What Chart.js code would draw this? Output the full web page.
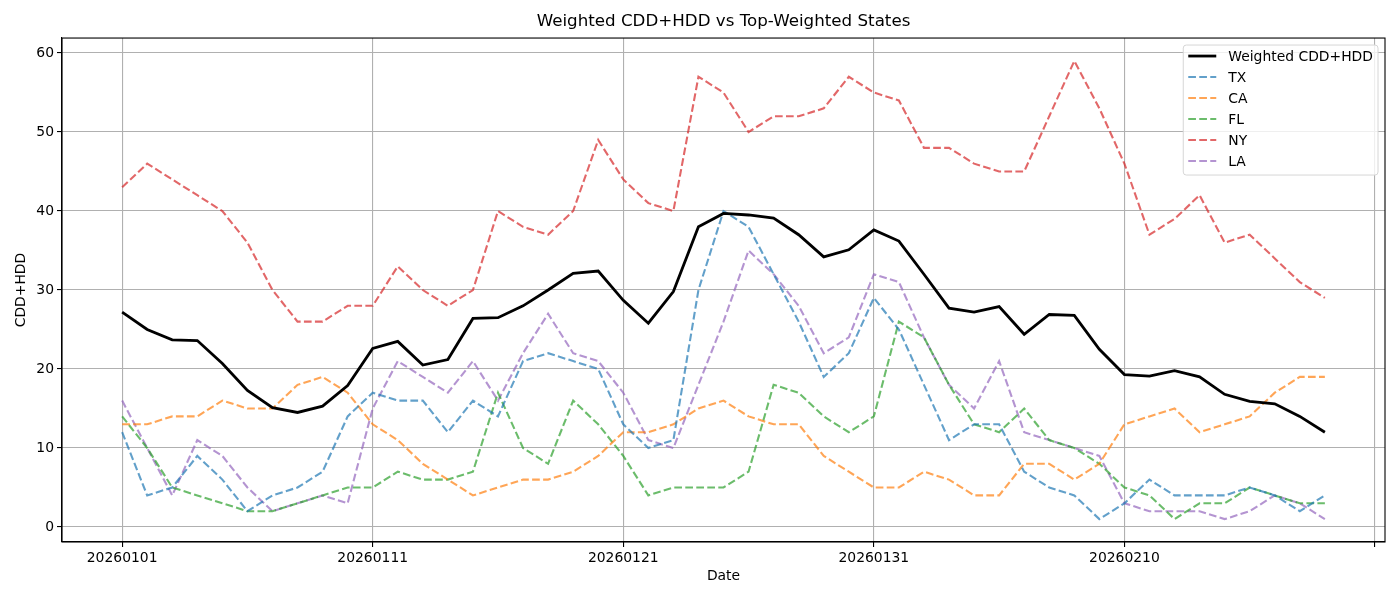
<!DOCTYPE html>
<html>
<head>
<meta charset="utf-8">
<title>Weighted CDD+HDD vs Top-Weighted States</title>
<script src="https://cdn.jsdelivr.net/npm/chart.js@4.4.1/dist/chart.umd.min.js"></script>
<style>
  html, body { margin: 0; padding: 0; background: #fff; }
  #wrap { width: 1400px; height: 600px; }
</style>
</head>
<body>
<div id="wrap"><canvas id="cddChart" width="1400" height="600"></canvas></div>
<script>
// dates on the x axis (one per day)
var dates = [
  '20260101', '20260102', '20260103', '20260104', '20260105', '20260106', '20260107',
  '20260108', '20260109', '20260110', '20260111', '20260112', '20260113', '20260114',
  '20260115', '20260116', '20260117', '20260118', '20260119', '20260120', '20260121',
  '20260122', '20260123', '20260124', '20260125', '20260126', '20260127', '20260128',
  '20260129', '20260130', '20260131', '20260201', '20260202', '20260203', '20260204',
  '20260205', '20260206', '20260207', '20260208', '20260209', '20260210', '20260211',
  '20260212', '20260213', '20260214', '20260215', '20260216', '20260217', '20260218'
];

// series values
var weighted = [27.2, 25.0, 23.7, 23.6, 20.7, 17.3, 15.1, 14.5, 15.3, 17.9, 22.6, 23.5, 20.5, 21.2,
  26.4, 26.5, 28.0, 30.0, 32.1, 32.4, 28.7, 25.8, 29.8, 38.0, 39.7, 39.5, 39.1, 37.0, 34.2, 35.1,
  37.6, 36.2, 32.0, 27.7, 27.2, 27.9, 24.4, 26.9, 26.8, 22.5, 19.3, 19.1, 19.8, 19.0, 16.8, 15.9,
  15.6, 14.0, 12.0];
var tx = [12, 4, 5, 9, 6, 2, 4, 5, 7, 14, 17, 16, 16, 12, 16, 14, 21, 22, 21, 20, 13, 10, 11, 30, 40,
  38, 32, 26, 19, 22, 29, 25, 18, 11, 13, 13, 7, 5, 4, 1, 3, 6, 4, 4, 4, 5, 4, 2, 4];
var ca = [13, 13, 14, 14, 16, 15, 15, 18, 19, 17, 13, 11, 8, 6, 4, 5, 6, 6, 7, 9, 12, 12, 13, 15, 16,
  14, 13, 13, 9, 7, 5, 5, 7, 6, 4, 4, 8, 8, 6, 8, 13, 14, 15, 12, 13, 14, 17, 19, 19];
var fl = [14, 10, 5, 4, 3, 2, 2, 3, 4, 5, 5, 7, 6, 6, 7, 17, 10, 8, 16, 13, 9, 4, 5, 5, 5, 7, 18, 17,
  14, 12, 14, 26, 24, 18, 13, 12, 15, 11, 10, 8, 5, 4, 1, 3, 3, 5, 4, 3, 3];
var ny = [43, 46, 44, 42, 40, 36, 30, 26, 26, 28, 28, 33, 30, 28, 30, 40, 38, 37, 40, 49, 44, 41, 40,
  57, 55, 50, 52, 52, 53, 57, 55, 54, 48, 48, 46, 45, 45, 52, 59, 53, 46, 37, 39, 42, 36, 37, 34, 31, 29];
var la = [16, 10, 4, 11, 9, 5, 2, 3, 4, 3, 15, 21, 19, 17, 21, 16, 22, 27, 22, 21, 17, 11, 10, 18, 26,
  35, 32, 28, 22, 24, 32, 31, 24, 18, 15, 21, 12, 11, 10, 9, 3, 2, 2, 2, 1, 2, 4, 3, 1];

// tick positions
var xTicks = [0, 10, 20, 30, 40, 50];
var yTicks = [0, 10, 20, 30, 40, 50, 60];

var FONT = 'DejaVu Sans';
var tickFont = { family: FONT, size: 13.9 };

function toPoints(vals) {
  return vals.map(function (v, i) { return { x: i, y: v }; });
}

function stateLine(label, vals, color) {
  return {
    label: label,
    data: toPoints(vals),
    borderColor: color,
    borderWidth: 2.1,
    borderDash: [7.7, 3.3],
    pointRadius: 0,
    tension: 0,
    fill: false
  };
}

// matplotlib-like legend inside the axes + top/right spines
var boxLegend = {
  id: 'boxLegend',
  afterDraw: function (chart) {
    var ctx = chart.ctx, area = chart.chartArea;
    ctx.save();
    ctx.strokeStyle = '#000';
    ctx.lineWidth = 1.1;
    ctx.strokeRect(area.left, area.top, area.right - area.left, area.bottom - area.top);

    ctx.font = '13.9px "' + FONT + '"';
    var sets = chart.data.datasets;
    var maxW = 0;
    sets.forEach(function (ds) { maxW = Math.max(maxW, ctx.measureText(ds.label).width); });
    var rowH = 21, w = 5 + 28 + 11 + maxW + 6, h = sets.length * rowH + 4;
    var x = area.right - 7 - w, y = area.top + 7;

    ctx.beginPath();
    if (ctx.roundRect) ctx.roundRect(x, y, w, h, 3); else ctx.rect(x, y, w, h);
    ctx.fillStyle = 'rgba(255,255,255,0.8)';
    ctx.fill();
    ctx.strokeStyle = '#d6d6d6';
    ctx.lineWidth = 1;
    ctx.stroke();

    sets.forEach(function (ds, i) {
      var cy = y + 11 + i * rowH;
      ctx.beginPath();
      ctx.setLineDash(ds.borderDash || []);
      ctx.strokeStyle = ds.borderColor;
      ctx.lineWidth = ds.borderWidth;
      ctx.moveTo(x + 5, cy);
      ctx.lineTo(x + 33, cy);
      ctx.stroke();
      ctx.setLineDash([]);
      ctx.fillStyle = '#000';
      ctx.textBaseline = 'middle';
      ctx.textAlign = 'left';
      ctx.fillText(ds.label, x + 45, cy + 1);
    });
    ctx.restore();
  }
};

var ctx = document.getElementById('cddChart').getContext('2d');
var chart = new Chart(ctx, {
  type: 'line',
  data: {
    datasets: [
      {
        label: 'Weighted CDD+HDD',
        data: toPoints(weighted),
        borderColor: '#000',
        borderWidth: 2.8,
        pointRadius: 0,
        tension: 0,
        fill: false
      },
      stateLine('TX', tx, 'rgba(31,119,180,0.7)'),
      stateLine('CA', ca, 'rgba(255,127,14,0.7)'),
      stateLine('FL', fl, 'rgba(44,160,44,0.7)'),
      stateLine('NY', ny, 'rgba(214,39,40,0.7)'),
      stateLine('LA', la, 'rgba(148,103,189,0.7)')
    ]
  },
  options: {
    responsive: false,
    animation: false,
    devicePixelRatio: 1,
    layout: { padding: { right: 15 } },
    plugins: {
      legend: { display: false },
      tooltip: { enabled: false },
      title: {
        display: true,
        text: 'Weighted CDD+HDD vs Top-Weighted States',
        fullSize: false,
        color: '#000',
        font: { family: FONT, size: 16.7, weight: 'normal' },
        padding: { top: 12, bottom: 6 }
      }
    },
    scales: {
      x: {
        type: 'linear',
        min: -2.4,
        max: 50.4,
        afterBuildTicks: function (s) { s.ticks = xTicks.map(function (v) { return { value: v }; }); },
        afterFit: function (s) { s.height = 58; },
        ticks: {
          callback: function (v) { return dates[v] || ''; },
          color: '#000',
          font: tickFont,
          padding: 3,
          maxRotation: 0,
          autoSkip: false
        },
        grid: { color: '#b0b0b0', lineWidth: 1.1, tickColor: '#000', tickLength: 5 },
        border: { color: '#000', width: 1.1 },
        title: { display: true, text: 'Date', color: '#000', font: tickFont, padding: { top: 0, bottom: 15 } }
      },
      y: {
        type: 'linear',
        min: -1.9,
        max: 61.9,
        afterBuildTicks: function (s) { s.ticks = yTicks.map(function (v) { return { value: v }; }); },
        afterFit: function (s) { s.width = 62; },
        ticks: { color: '#000', font: tickFont, padding: 3 },
        grid: { color: '#b0b0b0', lineWidth: 1.1, tickColor: '#000', tickLength: 5 },
        border: { color: '#000', width: 1.1 },
        title: { display: true, text: 'CDD+HDD', color: '#000', font: tickFont, padding: { top: 13, bottom: 0 } }
      }
    }
  },
  plugins: [boxLegend]
});
</script>
</body>
</html>
